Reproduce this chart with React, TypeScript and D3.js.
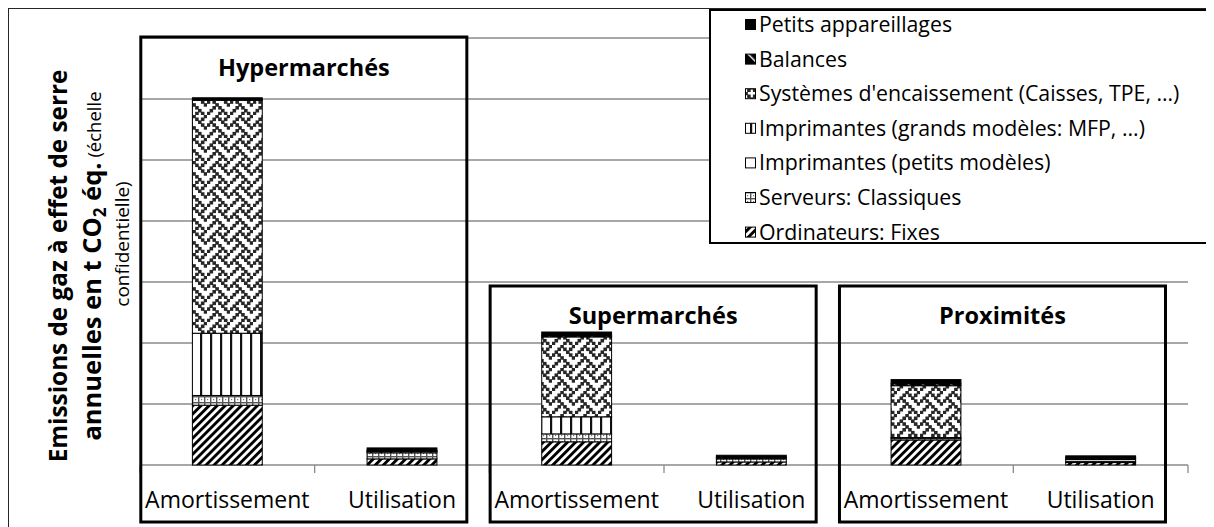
import React from 'react';
import * as d3 from 'd3';

// ---------- DATA ----------
const categories = ['Amortissement', 'Utilisation', 'Amortissement', 'Utilisation', 'Amortissement', 'Utilisation'];
const groups = ['Hypermarchés', 'Supermarchés', 'Proximités'];
const seriesNames = [
  'Ordinateurs: Fixes',
  'Serveurs: Classiques',
  'Imprimantes (petits modèles)',
  'Imprimantes (grands modèles: MFP, ...)',
  "Systèmes d'encaissement (Caisses, TPE, …)",
  'Balances',
  'Petits appareillages',
];
const ordinateurs = [0.98, 0.1, 0.38, 0.05, 0.41, 0.04];
const serveurs = [0.16, 0.1, 0.13, 0.05, 0.03, 0.02];
const imprPetits = [0, 0, 0, 0, 0, 0.03];
const imprGrands = [1.02, 0.02, 0.28, 0.01, 0.01, 0];
const systemes = [3.82, 0.01, 1.31, 0.01, 0.85, 0.02];
const balances = [0.01, 0.01, 0.02, 0.01, 0.03, 0.01];
const petits = [0.03, 0.04, 0.06, 0.03, 0.07, 0.03];
const yTicks = [0, 1, 2, 3, 4, 5, 6, 7];

const seriesValues = [ordinateurs, serveurs, imprPetits, imprGrands, systemes, balances, petits];
const seriesKeys = seriesNames.map((_, i) => 's' + i);

// weave bitmap (8x8)
const weaveRows = [0x11, 0x2a, 0x44, 0xa2, 0x11, 0x28, 0x44, 0x8a];

const FONT = "'Open Sans', 'DejaVu Sans', sans-serif";

export default function App() {
  React.useLayoutEffect(() => {
    document.documentElement.style.overflow = 'hidden';
    document.body.style.overflow = 'hidden';
  }, []);

  const W = 1206;
  const H = 519;
  const x = d3.scaleBand<number>().domain(d3.range(categories.length)).range([140, 1188]).paddingInner(0).paddingOuter(0);
  const bw = x.bandwidth();
  const y = d3.scaleLinear().domain([0, 7]).range([465, 38]);

  const table = categories.map((c, i) => {
    const o: any = { i };
    seriesKeys.forEach((k, j) => (o[k] = seriesValues[j][i]));
    return o;
  });
  const stacked = d3.stack().keys(seriesKeys)(table as any);

  const fills = ['url(#pOrd)', 'url(#pSrv)', '#ffffff', 'url(#pImpG)', 'url(#pSys)', 'url(#pBal)', '#000000'];

  const cell = 23 / 8;
  const weaveRects: JSX.Element[] = [];
  weaveRows.forEach((row, r) => {
    for (let c = 0; c < 8; c++) {
      if (row & (0x80 >> c)) {
        weaveRects.push(
          <rect key={r + '-' + c} x={c * cell - 0.35} y={r * cell - 0.35} width={cell + 0.7} height={cell + 0.7} fill="#262626" />
        );
      }
    }
  });

  const barW = bw * 0.4;
  const barOff = (bw - barW) / 2;

  const boxTop = [37, 286, 286];
  const titleY = [76, 324, 324];

  const legendRowY = (i: number) => 32 + i * 34.6;
  const legendOrder = d3.range(seriesNames.length).reverse();

  return (
    <svg width={W} height={H} style={{ display: 'block' }} fontFamily={FONT}>
      <defs>
        <pattern id="pOrd" patternUnits="userSpaceOnUse" width={5.7} height={5.7} patternTransform="rotate(45)">
          <rect width={5.7} height={5.7} fill="#fff" />
          <rect width={2.9} height={5.7} fill="#000" />
        </pattern>
        <pattern id="pSrv" patternUnits="userSpaceOnUse" width={6} height={6}>
          <rect width={6} height={6} fill="#fff" />
          <rect width={6} height={1.4} fill="#555" />
          <rect width={1.4} height={6} fill="#555" />
          <rect x={3} y={3} width={1.2} height={1.2} fill="#777" />
        </pattern>
        <pattern id="pImpG" patternUnits="userSpaceOnUse" width={10} height={10}>
          <rect width={10} height={10} fill="#fff" />
          <rect x={0} width={2.2} height={10} fill="#111" />
        </pattern>
        <pattern id="pSys" patternUnits="userSpaceOnUse" width={23} height={23}>
          <rect width={23} height={23} fill="#fff" />
          {weaveRects}
        </pattern>
        <pattern id="pBal" patternUnits="userSpaceOnUse" width={10} height={10} patternTransform="rotate(-45)">
          <rect width={10} height={10} fill="#000" />
          <rect width={1.4} height={10} fill="#fff" />
        </pattern>
      </defs>
      <g transform="translate(-8,-8)">
        {/* outer chart border */}
        <rect x={8.5} y={8.5} width={1300} height={1000} fill="#fff" stroke="#262626" strokeWidth={1} />

        {/* gridlines */}
        {yTicks.map((t) => (
          <line key={t} x1={140} x2={1188} y1={y(t)} y2={y(t)} stroke="#8a8a8a" strokeWidth={1.3} />
        ))}
        {/* category boundary ticks */}
        {d3.range(categories.length + 1).map((i) => {
          const xx = i < categories.length ? (x(i) as number) : 1188;
          return <line key={i} x1={xx} x2={xx} y1={y(0)} y2={y(0) + 8} stroke="#8a8a8a" strokeWidth={1.3} />;
        })}

        {/* bars */}
        {stacked.map((s, si) => (
          <g key={si}>
            {s.map((d, ci) => {
              const h = y(d[0]) - y(d[1]);
              if (h <= 0) return null;
              return (
                <rect
                  key={ci}
                  x={(x(ci) as number) + barOff}
                  y={y(d[1])}
                  width={barW}
                  height={h}
                  fill={fills[si]}
                  stroke="#000"
                  strokeWidth={1}
                />
              );
            })}
          </g>
        ))}

        {/* category labels */}
        {categories.map((c, i) => (
          <text key={i} x={(x(i) as number) + bw / 2} y={508} textAnchor="middle" fontSize={23} fill="#000">
            {c}
          </text>
        ))}

        {/* group boxes */}
        {groups.map((g, gi) => {
          const x0 = (x(gi * 2) as number) + 0.8;
          const x1 = (x(gi * 2) as number) + 2 * bw - 22.5;
          return (
            <g key={g}>
              <rect x={x0} y={boxTop[gi]} width={x1 - x0} height={522 - boxTop[gi]} fill="none" stroke="#000" strokeWidth={3} />
              <text x={(x0 + x1) / 2} y={titleY[gi]} textAnchor="middle" fontSize={23.5} fontWeight="bold" fill="#000">
                {g}
              </text>
            </g>
          );
        })}

        {/* y axis title */}
        <g fill="#000">
          <text transform={`translate(67,266) rotate(-90)`} textAnchor="middle" fontSize={24.3} fontWeight="bold">
            Emissions de gaz à effet de serre
          </text>
          <text transform={`translate(101,266) rotate(-90)`} textAnchor="middle" fontSize={25.5}>
            <tspan fontWeight="bold">annuelles en t CO</tspan>
            <tspan fontWeight="bold" fontSize={17} dy={5}>2</tspan>
            <tspan fontWeight="bold" dy={-5}> éq.</tspan>
            <tspan fontSize={18.5}> (échelle</tspan>
          </text>
          <text transform={`translate(129,244) rotate(-90)`} textAnchor="middle" fontSize={19}>
            confidentielle)
          </text>
        </g>

        {/* legend */}
        <rect x={710} y={10} width={600} height={233} fill="#fff" stroke="#000" strokeWidth={2} />
        {legendOrder.map((si, k) => {
          const by = legendRowY(k);
          return (
            <g key={si}>
              <rect x={745.5} y={by - 12.5} width={10} height={10} fill={fills[si]} stroke="#000" strokeWidth={1} />
              <text x={759} y={by} fontSize={21.3} fill="#000">
                {seriesNames[si]}
              </text>
            </g>
          );
        })}
      </g>
    </svg>
  );
}
